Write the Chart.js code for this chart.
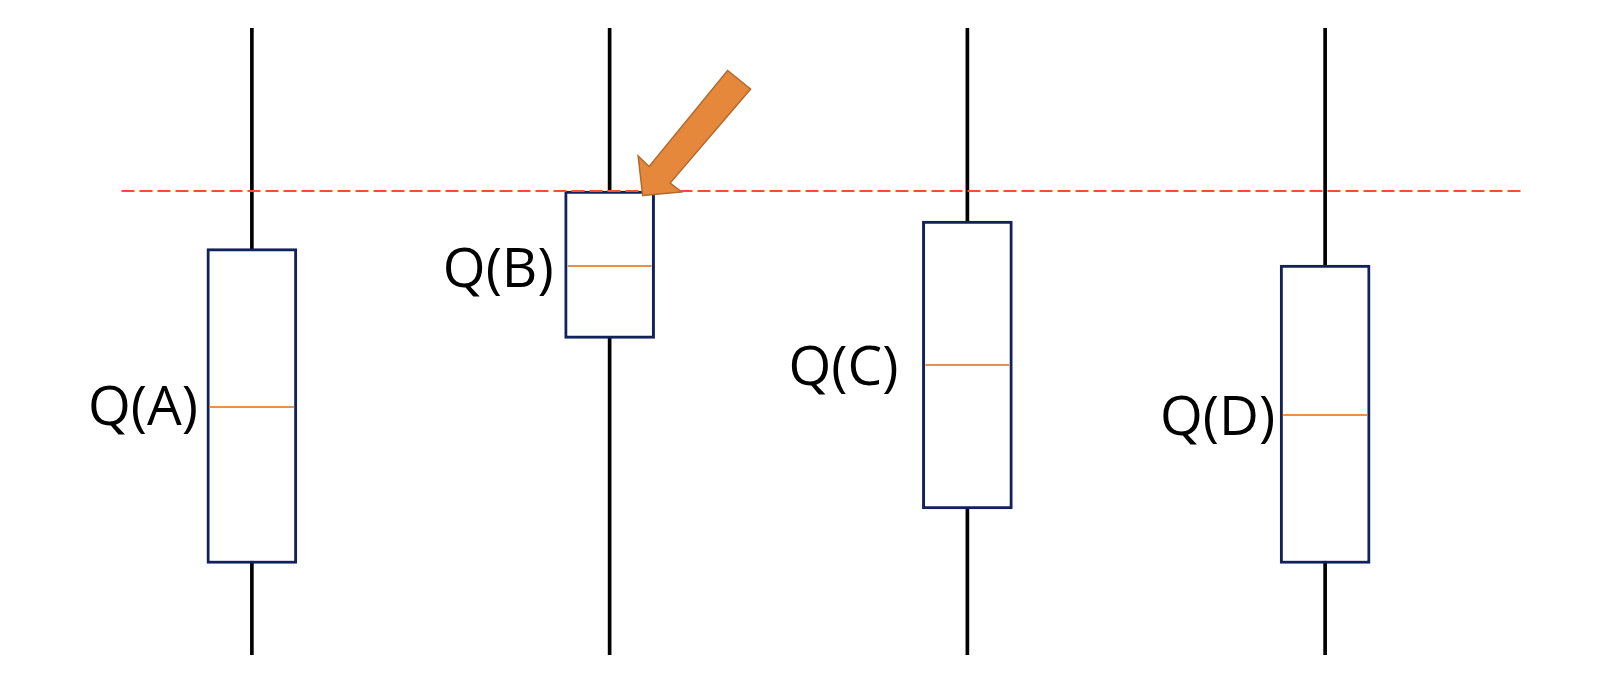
<!DOCTYPE html>
<html><head><meta charset="utf-8">
<script src="https://cdn.jsdelivr.net/npm/chart.js@4/dist/chart.umd.min.js"></script>
<style>html,body{margin:0;padding:0;background:#fff;} #wrap{width:1614px;height:697px;position:relative;}</style>
</head><body><div id="wrap"><canvas id="c"></canvas></div>
<script>
// ---- data ----
const categories = ['A', 'B', 'C', 'D'];
const boxLabels = ['Q(A)', 'Q(B)', 'Q(C)', 'Q(D)'];
const whiskerLow = [0, 0, 0, 0];
const whiskerHigh = [10, 10, 10, 10];
const q1 = [1.46, 5.05, 2.33, 1.46];
const q3 = [6.48, 7.40, 6.92, 6.22];
const median = [3.96, 6.21, 4.63, 3.83];
const threshold = 7.40;
const highlightIndex = 1;

// ---- styles ----
const BOX_COLOR = '#11215c';
const MEDIAN_COLOR = '#e8914a';
const THRESH_COLOR = '#ff4b3a';
const ARROW_FILL = '#e5883c';
const ARROW_STROKE = '#b06a2e';
const FONT = '55px "Open Sans", "Noto Sans", sans-serif';
const labelGap = [9, 11, 24, 5];
const labelDy = [-1, 2, 1, 1];

const overlay = {
  id: 'overlay',
  afterDatasetsDraw(chart) {
    const ctx = chart.ctx;
    const y = chart.scales.y;
    const area = chart.chartArea;
    const boxes = chart.getDatasetMeta(0).data;
    ctx.save();
    // medians
    ctx.strokeStyle = MEDIAN_COLOR;
    ctx.lineWidth = 2;
    boxes.forEach((el, i) => {
      const py = Math.round(y.getPixelForValue(median[i]));
      ctx.beginPath();
      ctx.moveTo(el.x - el.width / 2 + 3, py);
      ctx.lineTo(el.x + el.width / 2 - 3, py);
      ctx.stroke();
    });
    // labels
    ctx.fillStyle = '#000';
    ctx.font = FONT;
    ctx.textAlign = 'right';
    ctx.textBaseline = 'alphabetic';
    boxes.forEach((el, i) => {
      const py = y.getPixelForValue(median[i]) + labelDy[i] + 19.6;
      ctx.fillText(boxLabels[i], el.x - el.width / 2 - labelGap[i], py);
    });
    // threshold dashed line
    const ty = y.getPixelForValue(threshold);
    ctx.strokeStyle = THRESH_COLOR;
    ctx.lineWidth = 2;
    ctx.setLineDash([13, 5]);
    ctx.beginPath();
    ctx.moveTo(area.left + 48.5, ty);
    ctx.lineTo(area.right + 19.5, ty);
    ctx.stroke();
    ctx.setLineDash([]);
    // arrow pointing at highlighted box
    const hb = boxes[highlightIndex];
    const tx = hb.x + hb.width / 2 - 12;
    const tyy = ty + 4.5;
    const pts = [[0, 0], [39, -3.5], [27.5, -12.5], [108, -106.5], [85, -125], [6.5, -29], [-4.5, -39.5]];
    ctx.beginPath();
    pts.forEach((p, k) => { if (k === 0) ctx.moveTo(tx + p[0], tyy + p[1]); else ctx.lineTo(tx + p[0], tyy + p[1]); });
    ctx.closePath();
    ctx.fillStyle = ARROW_FILL;
    ctx.fill();
    ctx.strokeStyle = ARROW_STROKE;
    ctx.lineWidth = 1.5;
    ctx.stroke();
    ctx.restore();
  }
};

new Chart(document.getElementById('c'), {
  type: 'bar',
  data: {
    labels: categories,
    datasets: [
      {
        label: 'box',
        data: categories.map((_, i) => [q1[i], q3[i]]),
        backgroundColor: '#ffffff',
        borderColor: BOX_COLOR,
        borderWidth: 3,
        borderSkipped: false,
        barThickness: 90,
        grouped: false,
        order: 0
      },
      {
        label: 'whisker',
        data: categories.map((_, i) => [whiskerLow[i], whiskerHigh[i]]),
        backgroundColor: '#000000',
        borderWidth: 0,
        barThickness: 3,
        grouped: false,
        order: 1
      }
    ]
  },
  options: {
    responsive: true,
    maintainAspectRatio: false,
    animation: false,
    layout: { padding: { left: 73, right: 110, top: 28, bottom: 42 } },
    plugins: { legend: { display: false }, tooltip: { enabled: false } },
    scales: {
      x: { display: false },
      y: { display: false, min: 0, max: 10 }
    }
  },
  plugins: [overlay]
});
</script>
</body></html>
